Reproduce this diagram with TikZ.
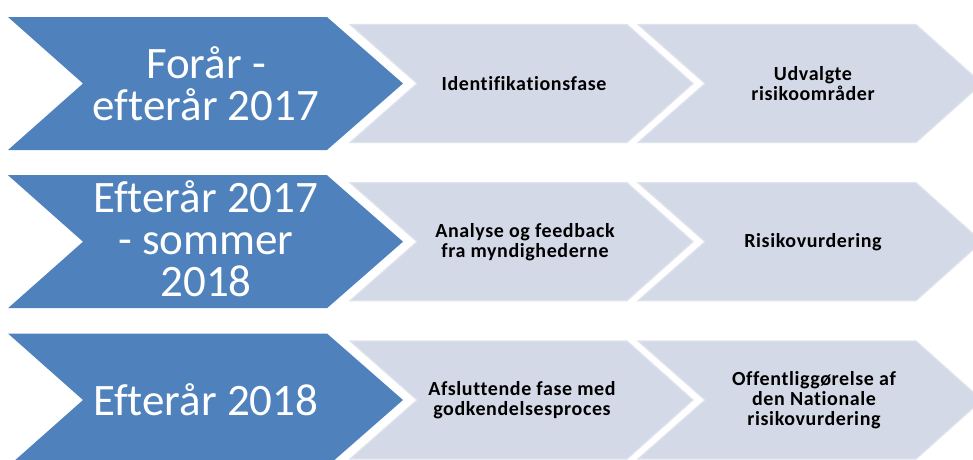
\documentclass[tikz,border=0pt]{standalone}
\usepackage{fontspec}
\setmainfont{Carlito}[Ligatures=NoCommon]
\newfontfamily\stagefont{Carlito}[LetterSpace=3, Ligatures=NoCommon]
\usetikzlibrary{positioning}

\definecolor{phaseblue}{RGB}{79,129,189}
\definecolor{stagegray}{RGB}{211,217,230}
\definecolor{stageedge}{RGB}{222,227,237}

\tikzset{
  phase/.style={fill=phaseblue},
  stage/.style={fill=stagegray, draw=stageedge, line width=1.2pt},
  phasetext/.style={text=white, align=center, font=\fontsize{45}{42}\selectfont},
  stagetext/.style={text=black, align=center, font=\stagefont\bfseries\fontsize{20}{20}\selectfont},
}

\begin{document}
\begin{tikzpicture}[x=1pt,y=-1pt]
  \useasboundingbox (0,0) rectangle (973,459);
  \foreach \y in {83.5,241.7,400}{
    \draw[stage] (350,\y-59) -- (627,\y-59) -- (693,\y) -- (627,\y+59) -- (350,\y+59) -- (417,\y) -- cycle;
    \draw[stage] (638,\y-59) -- (916,\y-59) -- (982,\y) -- (916,\y+59) -- (638,\y+59) -- (705,\y) -- cycle;
    \fill[phase] (8,\y-66.5) -- (327,\y-66.5) -- (403,\y) -- (327,\y+66.5) -- (8,\y+66.5) -- (83,\y) -- cycle;
  }

  \node[phasetext] (p1) at (206,83.5) {Forår -\\efterår 2017};
  \node[phasetext] (p2) at (206,239) {Efterår 2017\\- sommer\\2018};
  \node[phasetext] (p3) at (206,400) {Efterår 2018};

  \node[stagetext] (a1) at (524,83.5) {Identifikationsfase};
  \node[stagetext] (b1) at (813,83.5) {Udvalgte\\risikoområder};
  \node[stagetext] (a2) at (525,241.7) {Analyse og feedback\\fra myndighederne};
  \node[stagetext] (b2) at (813,241.7) {Risikovurdering};
  \node[stagetext] (a3) at (522,400) {Afsluttende fase med\\godkendelsesproces};
  \node[stagetext] (b3) at (814,400) {Offentliggørelse af\\den Nationale\\risikovurdering};
\end{tikzpicture}
\end{document}
